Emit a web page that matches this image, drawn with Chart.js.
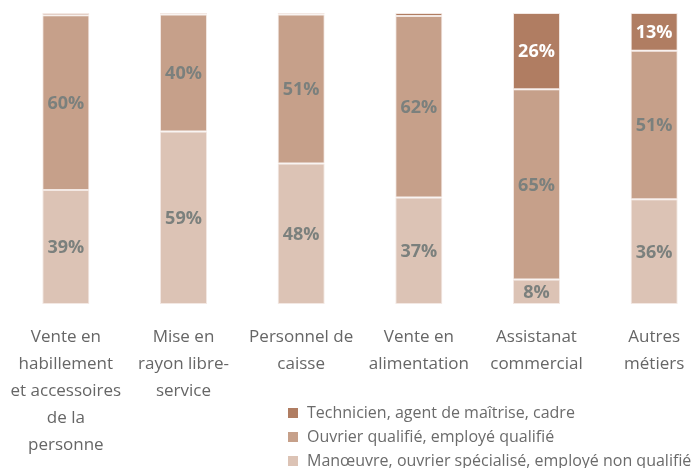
<!DOCTYPE html>
<html><head><meta charset="utf-8">
<script src="https://cdn.jsdelivr.net/npm/chart.js@4/dist/chart.umd.min.js"></script>
<style>
html,body{margin:0;padding:0;background:#fff;overflow:hidden;width:698px;height:468px;}
#wrap{position:relative;width:720px;height:468px;}
#legend{position:absolute;left:288px;top:400px;font-family:"Open Sans",sans-serif;font-size:16px;color:#6b6b6b;line-height:24px;white-space:nowrap;}
#legend .sw{display:inline-block;width:10px;height:10px;margin-right:9px;vertical-align:0px;}
</style></head>
<body>
<div id="wrap"><canvas id="c" width="720" height="468"></canvas>
<div id="legend"></div></div>
<script>
const categories = [
  ["Vente en","habillement","et accessoires","de la","personne"],
  ["Mise en","rayon libre-","service"],
  ["Personnel de","caisse"],
  ["Vente en","alimentation"],
  ["Assistanat","commercial"],
  ["Autres","métiers"]
];
const seriesNames = [
  "Technicien, agent de maîtrise, cadre",
  "Ouvrier qualifié, employé qualifié",
  "Manœuvre, ouvrier spécialisé, employé non qualifié"
];
const unskilled = [39.2, 59.3, 48.3, 36.6, 8.4, 36];
const skilled   = [60.0, 40.2, 51.2, 62.4, 65.4, 51];
const technician= [0.8, 0.5, 0.5, 1.0, 26.2, 13];
const colors = ["#b07d62", "#c6a08a", "#dcc3b5"];
const labelColors = ["#ffffff", "#7b807d", "#7b807d"];

const datasets = [
  {label: seriesNames[2], data: unskilled, backgroundColor: colors[2], lblColor: labelColors[2]},
  {label: seriesNames[1], data: skilled, backgroundColor: colors[1], lblColor: labelColors[1]},
  {label: seriesNames[0], data: technician, backgroundColor: colors[0], lblColor: labelColors[0]}
].map(d => Object.assign(d, {borderColor: "#f3e8e3", borderWidth: 1, borderSkipped: false,
  barPercentage: 0.4, categoryPercentage: 1.0}));

const valueLabels = {
  id: "valueLabels",
  afterDatasetsDraw(chart) {
    const ctx = chart.ctx;
    ctx.save();
    ctx.font = "bold 18px 'Open Sans', sans-serif";
    ctx.textAlign = "center";
    ctx.textBaseline = "middle";
    chart.data.datasets.forEach((ds, i) => {
      const meta = chart.getDatasetMeta(i);
      meta.data.forEach((el, j) => {
        const v = ds.data[j];
        if (v < 5) return;
        ctx.fillStyle = ds.lblColor;
        ctx.fillText(Math.round(v) + "%", el.x, (el.y + el.base) / 2 + 1);
      });
    });
    ctx.restore();
  }
};

new Chart(document.getElementById("c"), {
  type: "bar",
  data: {labels: categories, datasets},
  plugins: [valueLabels],
  options: {
    responsive: false,
    animation: false,
    layout: {padding: {left: 7, right: 7, top: 13, bottom: 0}},
    plugins: {legend: {display: false}, tooltip: {enabled: false}},
    scales: {
      x: {
        stacked: true,
        grid: {display: false, drawTicks: false},
        border: {display: false},
        ticks: {color: "#666666", font: {family: "'Open Sans', sans-serif", size: 17, lineHeight: 1.58}, padding: 20, maxRotation: 0, autoSkip: false},
        afterFit: s => { s.height = 164; s.paddingLeft = 0; s.paddingRight = 0; }
      },
      y: {stacked: true, display: false, min: 0, max: 100}
    }
  }
});

const lg = document.getElementById("legend");
[0,1,2].forEach(i => {
  const div = document.createElement("div");
  const sw = document.createElement("span");
  sw.className = "sw"; sw.style.background = colors[i];
  div.appendChild(sw);
  div.appendChild(document.createTextNode(seriesNames[i]));
  lg.appendChild(div);
});
</script>
</body></html>
